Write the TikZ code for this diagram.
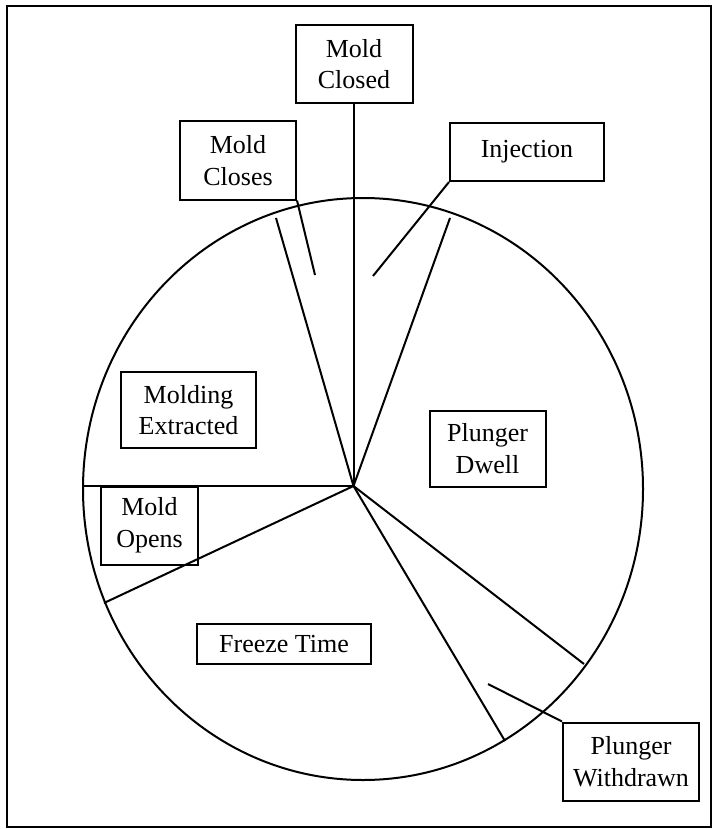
\documentclass[tikz,border=0pt]{standalone}
\usepackage{fontspec}
\setmainfont{Liberation Serif}
\begin{document}
\begin{tikzpicture}[x=1pt,y=-1pt,
  rule/.style={line width=2pt, line cap=butt},
  phase/.style={draw, line width=2pt, inner sep=0pt, align=center,
    font=\fontsize{26}{31.7}\selectfont}]
\useasboundingbox (0,0) rectangle (715,829);
% outer frame
\draw[line width=2pt] (7,6) rectangle (711,827);

% cycle disc
\draw[rule] (363,489) ellipse [x radius=280pt, y radius=291pt];

% hub and sector boundary points
\coordinate (hub) at (353.5,486);
\coordinate (bLeft) at (83,486);
\coordinate (bUpL) at (276,218);
\coordinate (bUpR) at (450,218);
\coordinate (bLowR) at (584,664);
\coordinate (bLow) at (505,741);
\coordinate (bLowL) at (104,603);

% phase labels
\node[phase, minimum width=117pt, minimum height=78pt] (mclosed) at (354,64) {Mold\\Closed};
\node[phase, minimum width=116pt, minimum height=78pt] (mcloses) at (238,160.5) {Mold\\Closes};
\node[phase, minimum width=154pt, minimum height=58pt] (inj) at (527,152) {Injection};
\node[phase, minimum width=135pt, minimum height=76pt] (mextr) at (188.5,410) {Molding\\Extracted};
\node[phase, minimum width=116pt, minimum height=76pt] (pdwell) at (487.5,448.5) {Plunger\\Dwell};
\node[phase, minimum width=97pt, minimum height=78pt] (mopens) at (149.5,525.5) {Mold\\Opens};
\node[phase, minimum width=174pt, minimum height=40pt] (freeze) at (284,644) {Freeze Time};
\node[phase, minimum width=136pt, minimum height=78pt] (pwith) at (631,761.5) {Plunger\\Withdrawn};

% sector boundaries
\draw[rule] (hub) -- (bLeft);
\draw[rule] (hub) -- (hub |- mclosed.south);
\draw[rule] (hub) -- (bUpL);
\draw[rule] (hub) -- (bUpR);
\draw[rule] (hub) -- (bLowR);
\draw[rule] (hub) -- (bLow);
\draw[rule] (hub) -- (bLowL);

% leaders from labels into narrow sectors
\coordinate (tClose) at (315,275);
\coordinate (tInj) at (373,276);
\coordinate (tWith) at (488,684);
\draw[rule] (mcloses.south east) -- (tClose);
\draw[rule] (inj.south west) -- (tInj);
\draw[rule] (pwith.north west) -- (tWith);
\end{tikzpicture}
\end{document}
